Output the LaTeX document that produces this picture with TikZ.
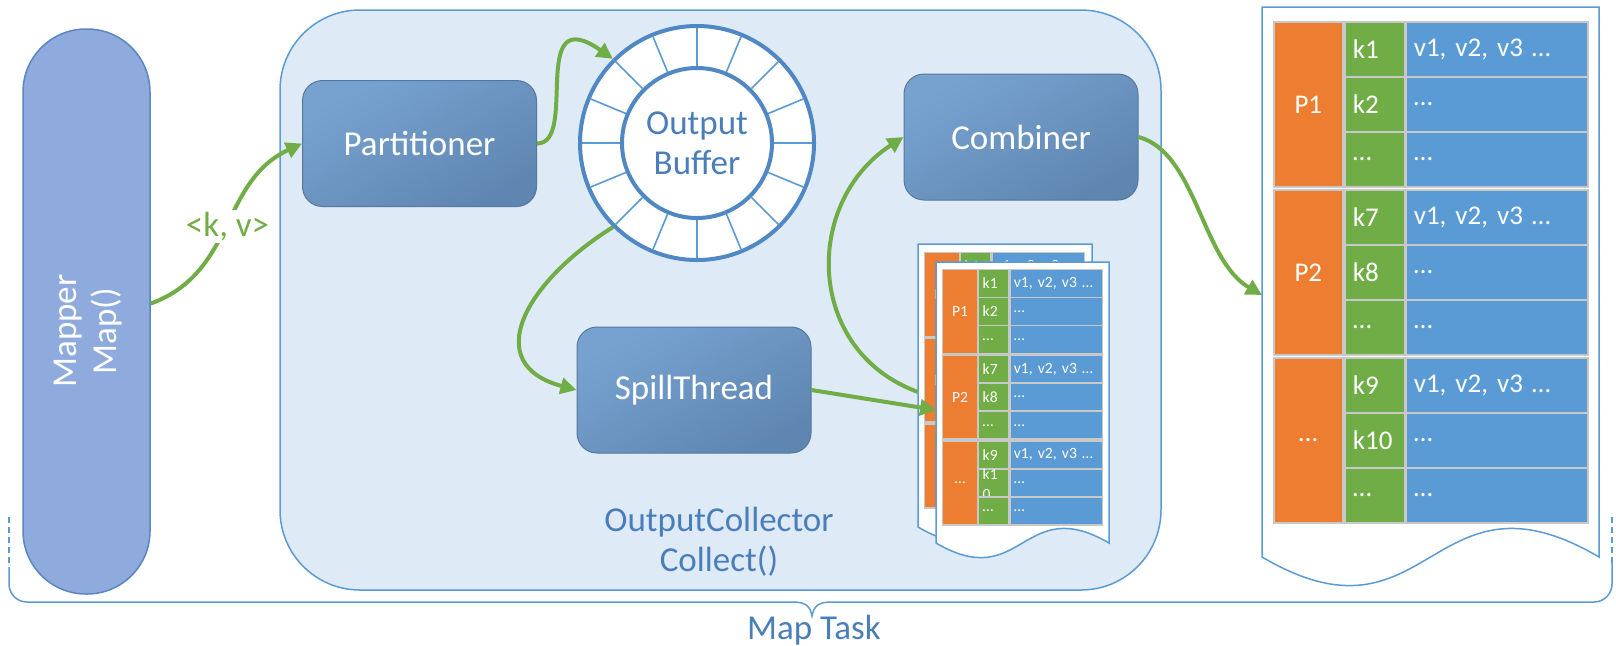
\documentclass[tikz,border=0pt]{standalone}
\usepackage{fontspec}
\setmainfont{Carlito}
\usetikzlibrary{arrows.meta}
\definecolor{mapfill}{HTML}{8FAADC}
\definecolor{mapline}{HTML}{5A86C4}
\definecolor{collfill}{HTML}{DEEAF6}
\definecolor{collline}{HTML}{5B9BD5}
\definecolor{boxtop}{HTML}{77A2D0}
\definecolor{boxbot}{HTML}{5F86B1}
\definecolor{boxline}{HTML}{54789F}
\definecolor{ringline}{HTML}{4F88C2}
\definecolor{spokecol}{HTML}{5B9BD5}
\definecolor{textblue}{HTML}{4A7EBB}
\definecolor{kvgreen}{HTML}{70AD47}
\definecolor{pcol}{HTML}{ED7D31}
\definecolor{kcol}{HTML}{70AD47}
\definecolor{vcol}{HTML}{5B9BD5}
\definecolor{cellline}{HTML}{C8C8C8}
\definecolor{docline}{HTML}{5B9BD5}
\tikzset{procbox/.style={rectangle, rounded corners=10pt, draw=boxline, line width=0.5pt,
    	top color=boxtop, bottom color=boxbot, shading angle=30, text=white,
    	minimum width=117pt, minimum height=63pt, font=\fontsize{17.5}{21}\selectfont},
    	bluetext/.style={text=textblue, align=center, font=\fontsize{17.5}{20}\selectfont},
    	flow/.style={draw=kvgreen, line width=2pt, -{Triangle[length=8pt,width=8pt]}},
    	spoke/.style={draw=spokecol, line width=0.8pt},
    	docsheet/.style={draw=docline, fill=white, line width=0.75pt},
    	taskline/.style={draw=collline, line width=0.75pt},
    	pcell/.style={rectangle, fill=pcol, draw=cellline, line width=0.8pt, text=white,
    	minimum width=34.5pt, minimum height=82.5pt, inner sep=0pt, anchor=north west},
    	kcell/.style={rectangle, fill=kcol, draw=cellline, line width=0.8pt, text=white,
    	text width=22pt, inner xsep=4pt, inner ysep=0pt, align=left, minimum height=27.5pt, anchor=north west},
    	vcell/.style={rectangle, fill=vcol, draw=cellline, line width=0.8pt, text=white,
    	text width=83pt, inner xsep=4pt, inner ysep=0pt, align=left, minimum height=27.5pt, anchor=north west}}
% name, x, y, scale, font, tenth key
\newcommand{\kvtable}[6]{%
	\begin{scope}[shift={(#2,#3)}, scale=#4, transform shape, every node/.append style={font=#5}]
	\foreach \g/\p in {0/P1,1/P2,2/\ldots}
		\node[pcell] (#1-p\g) at (0,{-168*\g}) {\p};
	\foreach \r/\k/\v in {0/k1/{v1, v2, v3 \ldots},1/k2/\ldots,2/\ldots/\ldots,
		3/k7/{v1, v2, v3 \ldots},4/k8/\ldots,5/\ldots/\ldots,
		6/k9/{v1, v2, v3 \ldots},7/{#6}/\ldots,8/\ldots/\ldots}{
		\pgfmathsetmacro\ty{-55*\r-3*int(\r/3)}
		\node[kcell] (#1-k\r) at (71,\ty) {\k};
		\node[vcell] (#1-v\r) at (132,\ty) {\v};
	}
	\end{scope}}
\newcommand{\docsheet}[4]{%
	\begin{scope}[shift={(#1,#2)}, xscale=#3, yscale=#4]
	\filldraw[docsheet] (0,0) -- (1,0) -- (1,-1) .. controls (0.5,-0.82) and (0.5,-1.18) .. (0,-1) -- cycle;
	\end{scope}}

\begin{document}
\begin{tikzpicture}[x=0.5pt, y=0.5pt]
		\useasboundingbox (0,0) rectangle (1616,-645);
		\node[draw=collline, fill=collfill, line width=0.75pt, rounded corners=40pt,
			minimum width=440.5pt, minimum height=290pt] (collector) at (720.5,-300) {};
		\node[bluetext] (collectorlbl) at (719,-542) {OutputCollector\\Collect()};
		\node[draw=mapline, fill=mapfill, line width=0.75pt, rounded corners=31.5pt,
			minimum width=63.5pt, minimum height=282.5pt] (mapper) at (86.5,-311.5) {};
		\node[rotate=90, text=white, align=center, font=\fontsize{17.5}{20}\selectfont] (mapperlbl) at (88,-331) {Mapper\\Map()};
		\node[procbox] (part) at (419.5,-143.5) {Partitioner};
		\node[procbox] (comb) at (1021,-137) {Combiner};
		\node[procbox] (spill) at (694,-390) {SpillThread};
		% ring buffer
		\node[circle, draw=ringline, fill=white, line width=2pt, minimum size=117pt, inner sep=0pt] (buf) at (697,-143) {};
		\node[circle, draw=ringline, fill=white, line width=2pt, minimum size=75pt, inner sep=0pt, bluetext] (bufin) at (697,-143) {Output\\Buffer};
		\foreach \a in {0,22.5,...,337.5}
			\draw[spoke] ([shift={(\a:77)}]buf.center) -- ([shift={(\a:115)}]buf.center);
		% spill files
		\docsheet{918}{-244}{174}{283}
		\kvtable{back}{924}{-252}{0.51}{\fontsize{15.3}{19}\selectfont}{k1\\0}
		\docsheet{936}{-262}{173}{281}
		\kvtable{front}{942}{-269}{0.51}{\fontsize{15.3}{19}\selectfont}{k1\\0}
		\docsheet{1262}{-7}{337}{550}
		\kvtable{big}{1273}{-21}{1}{\fontsize{13.5}{16}\selectfont}{k10}
		\coordinate (frontin) at (936,-410);
		\coordinate (backout) at (918,-392);
		\coordinate (bigin) at (1262,-295);
		\draw[flow] ([yshift=4pt]mapper.east) to[out=20,in=205,looseness=1.05]
			node[fill=white, inner sep=1pt, text=kvgreen, font=\fontsize{17.5}{20}\selectfont] (kvlbl) {<k, v>} (part.west);
		\draw[flow] (part.east) to[out=0,in=145,out distance=21pt,in distance=52pt] (buf.135);
		\draw[flow] (buf.225) to[out=212,in=165,out distance=52pt,in distance=50pt] (spill.west);
		\draw[flow] (spill.east) -- (frontin);
		\draw[flow] (backout) to[out=160,in=213,out distance=60pt,in distance=60pt] (comb.west);
		\draw[flow] (comb.east) to[out=-15,in=150,out distance=30pt,in distance=35pt] (bigin);
		% map task brace
		\draw[taskline, dash pattern=on 3pt off 2pt] (9,-517) -- (9,-567);
		\draw[taskline, rounded corners=9pt] (9,-567) -- (9,-602) -- (792,-602);
		\draw[taskline] (792,-602) .. controls (806,-602) and (810,-606) .. (812,-616) .. controls (814,-606) and (818,-602) .. (832,-602);
		\draw[taskline, rounded corners=9pt] (832,-602) -- (1612,-602) -- (1612,-563);
		\draw[taskline, dash pattern=on 3pt off 2pt] (1612,-563) -- (1612,-513);
		\node[bluetext] (maptask) at (814,-630) {Map Task};
		\end{tikzpicture}
\end{document}
